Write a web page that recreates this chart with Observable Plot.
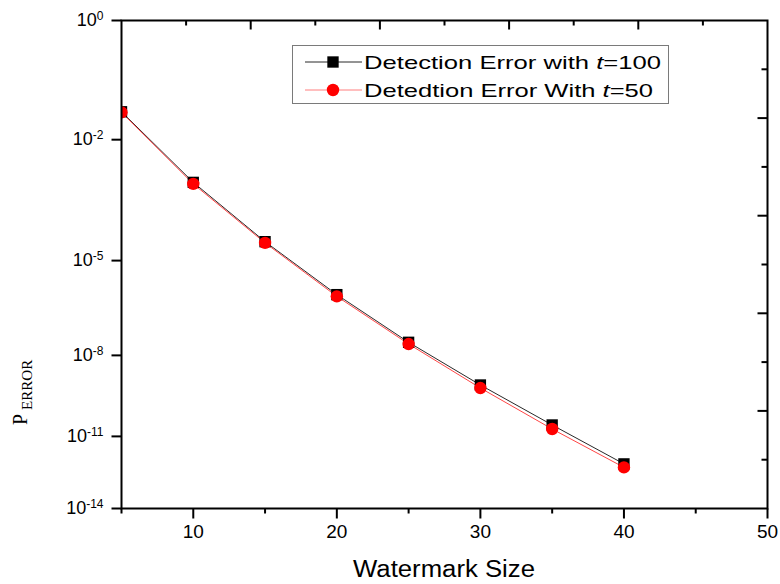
<!DOCTYPE html>
<html>
<head>
<meta charset="utf-8">
<script src="https://cdn.jsdelivr.net/npm/d3@7"></script>
<script src="https://cdn.jsdelivr.net/npm/@observablehq/plot@0.6"></script>
<style>
  html, body { margin: 0; padding: 0; background: #ffffff; }
  #chart { position: relative; width: 780px; height: 584px; }
</style>
</head>
<body>
<div id="chart"></div>
<script>
// ---- data ----
const watermarkSizes = [5, 10, 15, 20, 25, 30, 35, 40];
const errorT100 = [3.6e-2, 1.12e-3, 3.4e-5, 9.7e-7, 2.8e-8, 8.9e-10, 2.8e-11, 7.8e-13];
const errorT50  = [3.5e-2, 1.03e-3, 3.15e-5, 8.6e-7, 2.45e-8, 6.9e-10, 1.95e-11, 5.6e-13];
const seriesLabels = ["Detection Error with ", "Detedtion Error With "];
const seriesT = ["100", "50"];

const xMajorTicks = [10, 20, 30, 40, 50];
const xMinorTicks = [5, 15, 25, 35, 45];
const topMajorTicks = [14, 23, 32, 41];
const topMinorTicks = [9.5, 18.5, 27.5, 36.5, 45.5];
const yTickValues = [1, 1e-2, 1e-5, 1e-8, 1e-11, 1e-14];
const rightMajorSteps = [2, 4, 6, 8];
const rightMinorSteps = [1, 3, 5, 7, 9];

// ---- scale setup ----
const W = 780, H = 584;
const mTop = 20, mRight = 13, mBottom = 76, mLeft = 121;
const yExp = 0.54;
const depthDomain = [1, 15];
const toDepth = v => 1 - Math.log10(v);
const stepToValue = k => {
  const lo = Math.pow(depthDomain[0], yExp), hi = Math.pow(depthDomain[1], yExp);
  const u = Math.pow(lo + (k / 10) * (hi - lo), 1 / yExp);
  return Math.pow(10, 1 - u);
};
const rightMajor = rightMajorSteps.map(stepToValue);
const rightMinor = rightMinorSteps.map(stepToValue);

const d100 = watermarkSizes.map((s, i) => ({size: s, p: errorT100[i]}));
const d50 = watermarkSizes.map((s, i) => ({size: s, p: errorT50[i]}));

// a plain tick line (no arrow head) for vector marks
const tickShape = {draw(ctx, l) { ctx.moveTo(0, 0); ctx.lineTo(0, -l); }};
const xTick = (data, anchor, len, rotate) =>
  Plot.vector(data, {x: d => d, frameAnchor: anchor, length: len, rotate, anchor: "start",
    shape: tickShape, stroke: "black", strokeWidth: 2, strokeLinecap: "butt"});
const yTick = (data, anchor, len, rotate) =>
  Plot.vector(data, {y: d => d, frameAnchor: anchor, length: len, rotate, anchor: "start",
    shape: tickShape, stroke: "black", strokeWidth: 2, strokeLinecap: "butt"});

const plot = Plot.plot({
  width: W, height: H,
  marginTop: mTop, marginRight: mRight, marginBottom: mBottom, marginLeft: mLeft,
  style: {fontFamily: '"Liberation Sans", Arial, sans-serif', background: "transparent", color: "black"},
  x: {domain: [5, 50]},
  y: {type: "pow", exponent: yExp, transform: toDepth, domain: depthDomain, reverse: true},
  marks: [
    Plot.line(d100, {x: "size", y: "p", stroke: "#111", strokeWidth: 0.9, clip: true}),
    Plot.line(d50, {x: "size", y: "p", stroke: "#ff3030", strokeWidth: 0.9, clip: true}),
    Plot.dot(d100, {x: "size", y: "p", symbol: "square", r: 6.4, fill: "black", stroke: null, clip: true}),
    Plot.dot(d50, {x: "size", y: "p", symbol: "circle", r: 6.2, fill: "#ff0000", stroke: null, clip: true}),
    // tick labels
    Plot.axisX(xMajorTicks, {anchor: "bottom", tickSize: 0, tickPadding: 16, fontSize: 19, label: null}),
    Plot.axisY(yTickValues, {anchor: "left", tickSize: 0, tickPadding: 18, fontSize: 18, label: null,
      tickFormat: v => `10^${Math.round(Math.log10(v))}`}),
    // tick lines
    xTick(xMajorTicks, "bottom", 10, 180),
    xTick(xMinorTicks, "bottom", 5, 180),
    xTick(topMajorTicks, "top", 9, 180),
    xTick(topMinorTicks, "top", 5, 180),
    yTick(yTickValues, "left", 10, -90),
    yTick(rightMajor, "right", 10, -90),
    yTick(rightMinor, "right", 6, -90),
    Plot.frame({stroke: "black", strokeWidth: 2})
  ]
});

const svg = d3.select(plot);

// superscript exponents on y tick labels
svg.selectAll('g[aria-label="y-axis tick label"] text').each(function () {
  const s = this.textContent;
  const m = s.match(/^10\^(-?\d+)$/);
  if (!m) return;
  const t = d3.select(this);
  t.text("10");
  t.append("tspan").attr("dy", "-0.5em").attr("font-size", 12).text(m[1]);
});

// y axis title: P with subscript ERROR (serif)
const yTitle = svg.append("text")
  .attr("transform", "translate(27,425) rotate(-90)")
  .attr("text-anchor", "start")
  .attr("font-family", '"Liberation Serif", "Times New Roman", serif')
  .attr("font-size", 20)
  .attr("fill", "black");
yTitle.append("tspan").text("P");
yTitle.append("tspan").attr("dx", 4).attr("dy", 5).attr("font-size", 15).text("ERROR");

// x axis title
svg.append("text")
  .attr("x", (mLeft + W - mRight) / 2)
  .attr("y", 577)
  .attr("text-anchor", "middle")
  .attr("font-family", '"Liberation Sans", Arial, sans-serif')
  .attr("font-size", 23)
  .attr("textLength", 182)
  .attr("lengthAdjust", "spacingAndGlyphs")
  .attr("fill", "black")
  .text("Watermark Size");

// legend
const lg = svg.append("g");
lg.append("rect").attr("x", 292.5).attr("y", 45.5).attr("width", 376).attr("height", 58)
  .attr("fill", "white").attr("stroke", "#7a7a7a").attr("stroke-width", 1);
const legendStyles = [
  {color: "black", lineColor: "#111", symbol: d3.symbolSquare, r: 6.4, width: 297},
  {color: "#ff0000", lineColor: "#ff7070", symbol: d3.symbolCircle, r: 6.2, width: 289}
];
seriesLabels.forEach((label, i) => {
  const cy = 62 + i * 28;
  const st = legendStyles[i];
  lg.append("line").attr("x1", 305).attr("x2", 362).attr("y1", cy).attr("y2", cy)
    .attr("stroke", st.lineColor).attr("stroke-width", 0.9);
  lg.append("path").attr("transform", `translate(333,${cy})`)
    .attr("d", d3.symbol(st.symbol, Math.PI * st.r * st.r)()).attr("fill", st.color);
  const t = lg.append("text").attr("x", 364).attr("y", cy + 7)
    .attr("text-anchor", "start")
    .attr("font-family", '"Liberation Sans", Arial, sans-serif').attr("font-size", 19)
    .attr("textLength", st.width).attr("lengthAdjust", "spacingAndGlyphs").attr("fill", "black");
  t.append("tspan").text(label);
  t.append("tspan").attr("font-style", "italic").text("t");
  t.append("tspan").text("=" + seriesT[i]);
});

document.getElementById("chart").appendChild(plot);
</script>
</body>
</html>
